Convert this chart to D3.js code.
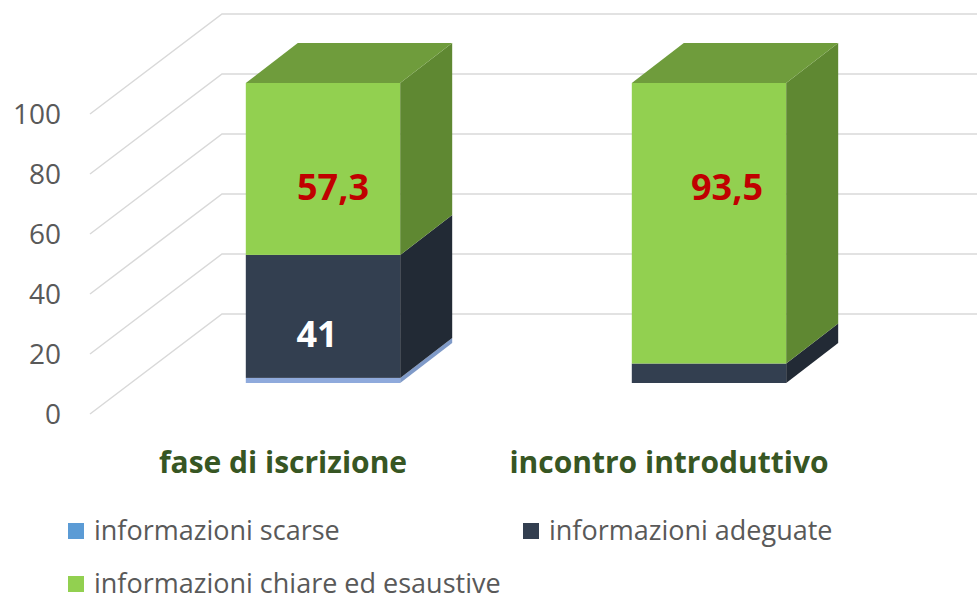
<!DOCTYPE html>
<html>
<head>
<meta charset="utf-8">
<script src="https://cdn.jsdelivr.net/npm/d3@7"></script>
<style>
    body { margin: 0; background: #fff; }
    svg text { font-family: "Open Sans", sans-serif; }
</style>
</head>
<body>
<div id="graph"></div>
<script>
"use strict";

// chart data
const categories = ["fase di iscrizione", "incontro introduttivo"];
const seriesNames = ["informazioni scarse", "informazioni adeguate", "informazioni chiare ed esaustive"];
const scarse = [1.7, 0];
const adeguate = [41, 6.5];
const chiare = [57.3, 93.5];
const yTicks = [0, 20, 40, 60, 80, 100];

(function() {
    const svgSize = {
        width : 977,
        height: 598,
    };
    const depth = { dx: 52, dy: -40 };   // bar depth offset
    const wall = { dx: 132, dy: -100 };  // floor depth to the back wall

    const front = ["#8FAADC", "#333F50", "#92D050"];
    const side = ["#7F9AC8", "#222A35", "#5F8832"];
    const top = ["#9DB5E0", "#2A3442", "#6F9C3C"];
    const legendColors = ["#5B9BD5", "#333F50", "#92D050"];

    window.addEventListener("load", init);

    function init() {
        let svg = d3.select("#graph")
                    .append("svg")
                        .attr("width", svgSize.width)
                        .attr("height", svgSize.height);

        let y = d3.scaleLinear().domain([0, 100]).range([383, 83]);
        let x = d3.scaleBand()
                    .domain(categories)
                    .range([130, 902])
                    .paddingInner(0.6)
                    .paddingOuter(0.3);

        drawGrid(svg, y);
        drawBars(svg, x, y);
        drawLegend(svg);
    }

    function drawGrid(svg, y) {
        let left = 90;
        let g = svg.append("g");
        g.selectAll("polyline")
            .data(yTicks)
            .enter()
            .append("polyline")
                .attr("points", function(d) {
                    let y0 = y(d) + 31;
                    return poly([[left, y0], [left + wall.dx, y0 + wall.dy], [svgSize.width, y0 + wall.dy]]);
                })
                .attr("fill", "none")
                .attr("stroke", "#D9D9D9")
                .attr("stroke-width", 1.5);

        g.selectAll("text")
            .data(yTicks)
            .enter()
            .append("text")
                .attr("x", 61)
                .attr("y", d => y(d) + 31)
                .attr("dy", "0.35em")
                .attr("text-anchor", "end")
                .attr("font-size", 28)
                .attr("fill", "#595959")
                .text(d => d);
    }

    function drawBars(svg, x, y) {
        let stack = d3.stack().keys([0, 1, 2]);
        let rows = categories.map((c, i) => [scarse[i], adeguate[i], chiare[i]]);
        let layers = stack(rows);
        let w = x.bandwidth();

        categories.forEach(function(cat, i) {
            let g = svg.append("g");
            let x0 = x(cat);
            let x1 = x0 + w;
            let lastK = -1;
            layers.forEach(function(layer, k) {
                let v0 = layer[i][0], v1 = layer[i][1];
                if (v1 - v0 <= 0) return;
                lastK = k;
                let yb = y(v0), yt = y(v1);
                g.append("rect")
                    .attr("x", x0).attr("y", yt)
                    .attr("width", w).attr("height", yb - yt)
                    .attr("fill", front[k]);
                g.append("polygon")
                    .attr("points", poly([[x1, yb], [x1 + depth.dx, yb + depth.dy],
                                          [x1 + depth.dx, yt + depth.dy], [x1, yt]]))
                    .attr("fill", side[k]);
            });
            if (lastK >= 0) {
                let yt = y(layers[lastK][i][1]);
                g.append("polygon")
                    .attr("points", poly([[x0, yt], [x0 + depth.dx, yt + depth.dy],
                                          [x1 + depth.dx, yt + depth.dy], [x1, yt]]))
                    .attr("fill", top[lastK]);
            }

            // category label
            svg.append("text")
                .attr("x", x0 + w / 2 - 40)
                .attr("y", y(0) + 90)
                .attr("text-anchor", "middle")
                .attr("font-size", 30)
                .attr("font-weight", "bold")
                .attr("fill", "#375623")
                .text(cat);
        });

        // value labels (only the ones shown in the chart)
        let labels = [
            { i: 0, k: 2, color: "#C00000", nudge: [10, 18] },
            { i: 0, k: 1, color: "#FFFFFF", nudge: [-6, 18] },
            { i: 1, k: 2, color: "#C00000", nudge: [18, -36] },
        ];
        svg.selectAll(".vlabel")
            .data(labels)
            .enter()
            .append("text")
                .attr("class", "vlabel")
                .attr("x", d => x(categories[d.i]) + w / 2 + d.nudge[0])
                .attr("y", d => y((layers[d.k][d.i][0] + layers[d.k][d.i][1]) / 2) + d.nudge[1])
                .attr("dy", "0.35em")
                .attr("text-anchor", "middle")
                .attr("font-size", 36)
                .attr("font-weight", "bold")
                .attr("fill", d => d.color)
                .text(d => fmt(layers[d.k][d.i][1] - layers[d.k][d.i][0]));
    }

    function drawLegend(svg) {
        let pos = [[68, 531], [523, 531], [68, 584]];
        let items = svg.selectAll(".lg")
                        .data(seriesNames)
                        .enter()
                        .append("g")
                            .attr("class", "lg")
                            .attr("transform", (d, i) => "translate(" + pos[i][0] + "," + pos[i][1] + ")");
        items.append("rect")
            .attr("x", 0).attr("y", -8)
            .attr("width", 16).attr("height", 16)
            .attr("fill", (d, i) => legendColors[i]);
        items.append("text")
            .attr("x", 26)
            .attr("dy", "0.35em")
            .attr("font-size", 27)
            .attr("fill", "#595959")
            .text(d => d);
    }

    /* --- HELPER FUNCTIONS --- */

    function poly(points) {
        return points.map(p => p.join(",")).join(" ");
    }

    function fmt(v) {
        return String(Math.round(v * 10) / 10).replace(".", ",");
    }

})();
</script>
</body>
</html>
